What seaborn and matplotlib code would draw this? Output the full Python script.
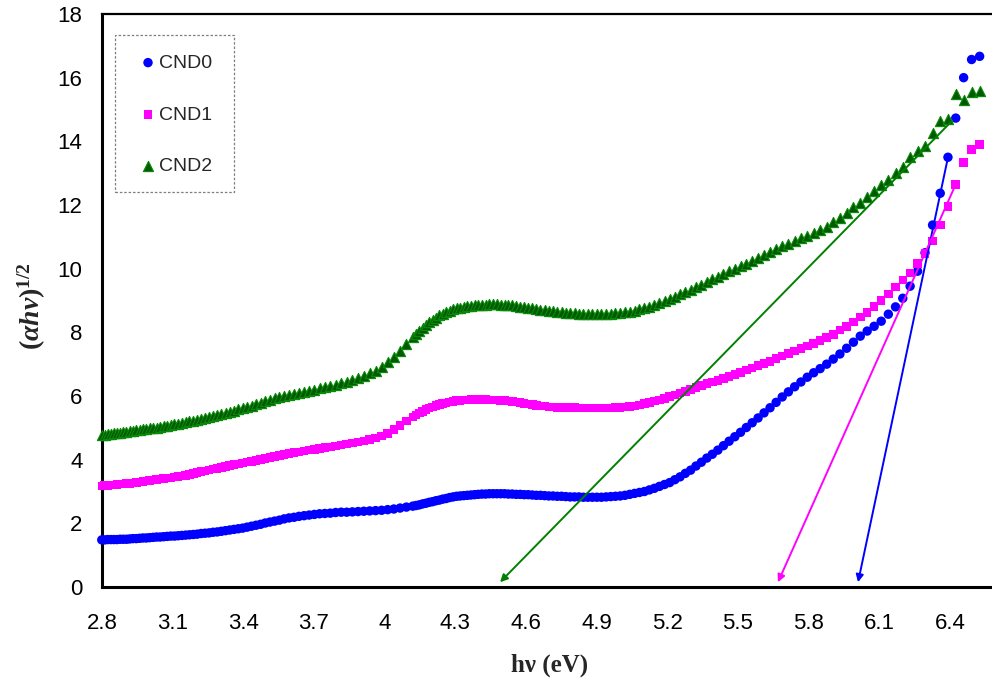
import numpy as np
import pandas as pd
import matplotlib
matplotlib.use("Agg")
import matplotlib.pyplot as plt
from matplotlib.patches import Rectangle
import seaborn as sns

# Measurement grid (nm) and photon energy hv = 1240 / lambda
wavelength_nm = np.concatenate([np.arange(443, 302, -2), np.arange(301, 189, -1)])
photon_energy = 1240.0 / wavelength_nm

# (alpha h nu)^(1/2) for each sample
cnd0 = [
    1.48, 1.48, 1.49, 1.49, 1.49, 1.49, 1.50, 1.50, 1.50, 1.51,
    1.52, 1.52, 1.53, 1.54, 1.54, 1.55, 1.56, 1.57, 1.57, 1.58,
    1.59, 1.60, 1.60, 1.61, 1.62, 1.63, 1.64, 1.65, 1.66, 1.68,
    1.69, 1.70, 1.72, 1.73, 1.75, 1.77, 1.79, 1.81, 1.83, 1.85,
    1.88, 1.91, 1.94, 1.97, 2.01, 2.04, 2.07, 2.10, 2.14, 2.17,
    2.19, 2.22, 2.24, 2.26, 2.28, 2.30, 2.31, 2.32, 2.34, 2.35,
    2.35, 2.36, 2.37, 2.38, 2.39, 2.40, 2.41, 2.43, 2.45, 2.48,
    2.51,
    2.54, 2.56, 2.58, 2.61, 2.63, 2.66, 2.68, 2.71, 2.73, 2.76,
    2.78, 2.81, 2.83, 2.85, 2.86, 2.87, 2.88, 2.89, 2.90, 2.91,
    2.92, 2.92, 2.93, 2.93, 2.93, 2.93, 2.93, 2.92, 2.92, 2.91,
    2.91, 2.90, 2.90, 2.89, 2.88, 2.88, 2.87, 2.86, 2.86, 2.85,
    2.85, 2.84, 2.83, 2.83, 2.83, 2.82, 2.82, 2.82, 2.82, 2.82,
    2.83, 2.84, 2.85, 2.86, 2.88, 2.91, 2.94, 2.97, 3.00, 3.05,
    3.10, 3.16, 3.22, 3.28, 3.37, 3.46, 3.57, 3.67, 3.80, 3.92,
    4.05, 4.17, 4.30, 4.44, 4.58, 4.72, 4.86, 5.01, 5.16, 5.31,
    5.47, 5.63, 5.80, 5.97, 6.13, 6.29, 6.44, 6.59, 6.73, 6.86,
    7.00, 7.16, 7.32, 7.50, 7.69, 7.88, 8.04, 8.19, 8.35, 8.57,
    8.80, 9.07, 9.45, 9.92, 10.50, 11.37, 12.37, 13.50, 14.73, 16.00,
    16.57, 16.67,
]
cnd1 = [
    3.17, 3.18, 3.19, 3.20, 3.21, 3.22, 3.23, 3.24, 3.25, 3.26,
    3.27, 3.28, 3.30, 3.31, 3.33, 3.34, 3.36, 3.37, 3.39, 3.40,
    3.42, 3.43, 3.45, 3.47, 3.49, 3.51, 3.54, 3.56, 3.59, 3.62,
    3.64, 3.67, 3.70, 3.73, 3.76, 3.79, 3.81, 3.84, 3.87, 3.90,
    3.92, 3.95, 3.98, 4.01, 4.04, 4.07, 4.10, 4.13, 4.16, 4.19,
    4.22, 4.24, 4.27, 4.30, 4.32, 4.35, 4.38, 4.40, 4.43, 4.46,
    4.49, 4.52, 4.55, 4.59, 4.63, 4.68, 4.74, 4.83, 4.95, 5.08,
    5.21,
    5.34, 5.40, 5.47, 5.52, 5.57, 5.62, 5.66, 5.70, 5.73, 5.76,
    5.78, 5.81, 5.83, 5.85, 5.86, 5.87, 5.88, 5.89, 5.89, 5.89,
    5.89, 5.89, 5.88, 5.88, 5.87, 5.86, 5.85, 5.84, 5.83, 5.81,
    5.79, 5.77, 5.75, 5.73, 5.71, 5.69, 5.68, 5.66, 5.65, 5.64,
    5.64, 5.63, 5.63, 5.63, 5.62, 5.62, 5.62, 5.62, 5.62, 5.62,
    5.62, 5.62, 5.63, 5.63, 5.65, 5.67, 5.69, 5.72, 5.76, 5.80,
    5.84, 5.88, 5.93, 5.98, 6.03, 6.09, 6.15, 6.21, 6.27, 6.33,
    6.39, 6.44, 6.49, 6.55, 6.61, 6.68, 6.74, 6.81, 6.88, 6.95,
    7.02, 7.09, 7.17, 7.25, 7.33, 7.41, 7.49, 7.57, 7.65, 7.74,
    7.83, 7.94, 8.07, 8.19, 8.32, 8.48, 8.63, 8.82, 9.00, 9.20,
    9.42, 9.64, 9.86, 10.17, 10.48, 10.87, 11.37, 11.96, 12.65, 13.34,
    13.75, 13.90,
]
cnd2 = [
    4.77, 4.78, 4.80, 4.81, 4.83, 4.84, 4.85, 4.87, 4.88, 4.90,
    4.91, 4.92, 4.94, 4.95, 4.97, 4.98, 5.00, 5.01, 5.03, 5.05,
    5.07, 5.09, 5.11, 5.13, 5.15, 5.18, 5.20, 5.23, 5.26, 5.28,
    5.31, 5.34, 5.37, 5.40, 5.43, 5.47, 5.50, 5.54, 5.58, 5.61,
    5.66, 5.70, 5.75, 5.79, 5.84, 5.89, 5.93, 5.97, 6.00, 6.03,
    6.06, 6.10, 6.13, 6.17, 6.20, 6.24, 6.27, 6.31, 6.36, 6.40,
    6.45, 6.50, 6.56, 6.63, 6.71, 6.80, 6.91, 7.06, 7.23, 7.42,
    7.62,
    7.84, 7.94, 8.04, 8.13, 8.22, 8.31, 8.39, 8.46, 8.53, 8.59,
    8.64, 8.68, 8.72, 8.75, 8.78, 8.80, 8.82, 8.84, 8.85, 8.86,
    8.87, 8.87, 8.88, 8.88, 8.88, 8.87, 8.87, 8.86, 8.85, 8.83,
    8.81, 8.79, 8.77, 8.75, 8.73, 8.71, 8.69, 8.67, 8.66, 8.64,
    8.63, 8.62, 8.61, 8.60, 8.59, 8.58, 8.58, 8.58, 8.58, 8.58,
    8.59, 8.59, 8.60, 8.61, 8.63, 8.65, 8.68, 8.72, 8.76, 8.81,
    8.86, 8.92, 8.98, 9.04, 9.12, 9.19, 9.27, 9.34, 9.42, 9.50,
    9.58, 9.67, 9.75, 9.83, 9.92, 10.00, 10.08, 10.16, 10.25, 10.34,
    10.42, 10.51, 10.61, 10.70, 10.79, 10.87, 10.96, 11.04, 11.12, 11.20,
    11.30, 11.46, 11.58, 11.74, 11.93, 12.05, 12.25, 12.43, 12.62, 12.78,
    13.00, 13.20, 13.50, 13.70, 13.85, 14.26, 14.63, 14.70, 15.50, 15.30,
    15.55, 15.57,
]

series_names = ["CND0", "CND1", "CND2"]

# Linear extrapolation of the absorption edge: (upper point) -> (intercept on hv axis)
tangent_from = [(6.392, 13.50), (6.425, 12.65), (6.41, 14.65)]
tangent_to = [(6.01, 0.15), (5.67, 0.15), (4.49, 0.15)]

x_ticks = [2.8, 3.1, 3.4, 3.7, 4.0, 4.3, 4.6, 4.9, 5.2, 5.5, 5.8, 6.1, 6.4]
x_tick_labels = ["2.8", "3.1", "3.4", "3.7", "4", "4.3", "4.6", "4.9",
                 "5.2", "5.5", "5.8", "6.1", "6.4"]
y_ticks = [0, 2, 4, 6, 8, 10, 12, 14, 16, 18]

df = pd.DataFrame({
    "hv": np.tile(photon_energy, 3),
    "value": np.concatenate([cnd0, cnd1, cnd2]),
    "sample": np.repeat(series_names, len(photon_energy)),
})

sns.set_style("white")
plt.rcParams["font.family"] = ["Liberation Sans", "DejaVu Sans"]
plt.rcParams["mathtext.fontset"] = "custom"
plt.rcParams["mathtext.rm"] = "Liberation Serif:bold"
plt.rcParams["mathtext.it"] = "Liberation Serif:italic:bold"
plt.rcParams["mathtext.bf"] = "Liberation Serif:bold"

fig = plt.figure(figsize=(9.92, 6.84), dpi=100)
ax = fig.add_axes([102 / 992, 97 / 684, 895 / 992, 573 / 684])

styles = {
    "CND0": dict(marker="o", color="#0000FF", s=46, edgecolor="none", linewidth=0),
    "CND1": dict(marker="s", color="#FF00FF", s=38, edgecolor="none", linewidth=0),
    "CND2": dict(marker="^", color="#005A00", s=54, edgecolor="#0A8A0A", linewidth=0.8),
}
for name in series_names:
    sub = df[df["sample"] == name]
    sns.scatterplot(data=sub, x="hv", y="value", ax=ax, label=name,
                    clip_on=False, zorder=3, **styles[name])

line_colors = ["#0000FF", "#FF00FF", "#008000"]
for (x0, y0), (x1, y1), c in zip(tangent_from, tangent_to, line_colors):
    ax.annotate("", xy=(x1, y1), xytext=(x0, y0),
                arrowprops=dict(arrowstyle="-|>", color=c, lw=1.4,
                                mutation_scale=11, shrinkA=0, shrinkB=0),
                zorder=5)

ax.set_xlim(2.8, 6.6)
ax.set_ylim(0, 18)
ax.set_xticks(x_ticks)
ax.set_xticklabels(x_tick_labels)
ax.set_yticks(y_ticks)
ax.tick_params(axis="both", which="major", direction="out", length=5, width=1,
               color="black", labelsize=16, labelcolor="black")
ax.tick_params(axis="x", pad=14)
ax.tick_params(axis="y", pad=9)

for side in ["left", "bottom"]:
    ax.spines[side].set_linewidth(2.2)
    ax.spines[side].set_color("black")
ax.spines["top"].set_linewidth(1.6)
ax.spines["top"].set_color("black")
ax.spines["right"].set_visible(False)

ax.set_xlabel("hν (eV)", fontfamily="Liberation Serif", fontweight="bold",
              fontsize=18)
ax.xaxis.set_label_coords(0.5, -0.136)
ax.xaxis.label.set_va("center")
ax.set_ylabel(r"$(\alpha h\nu)^{1/2}$", fontsize=20)
ax.yaxis.set_label_coords(-0.078, 0.49)
ax.yaxis.label.set_va("center")

leg = ax.legend(loc="upper left", bbox_to_anchor=(0.0413, 0.930),
                borderaxespad=0, borderpad=0, frameon=False, fontsize=14,
                handlelength=0.93, handletextpad=0.12, labelspacing=1.76)
ax.add_patch(Rectangle((0.0145, 0.689), 0.133, 0.274, transform=ax.transAxes,
                       fill=False, edgecolor="#7F7F7F", linestyle=(0, (2, 1.5)),
                       linewidth=0.9, zorder=6))

fig.savefig("out.png", dpi=100)
